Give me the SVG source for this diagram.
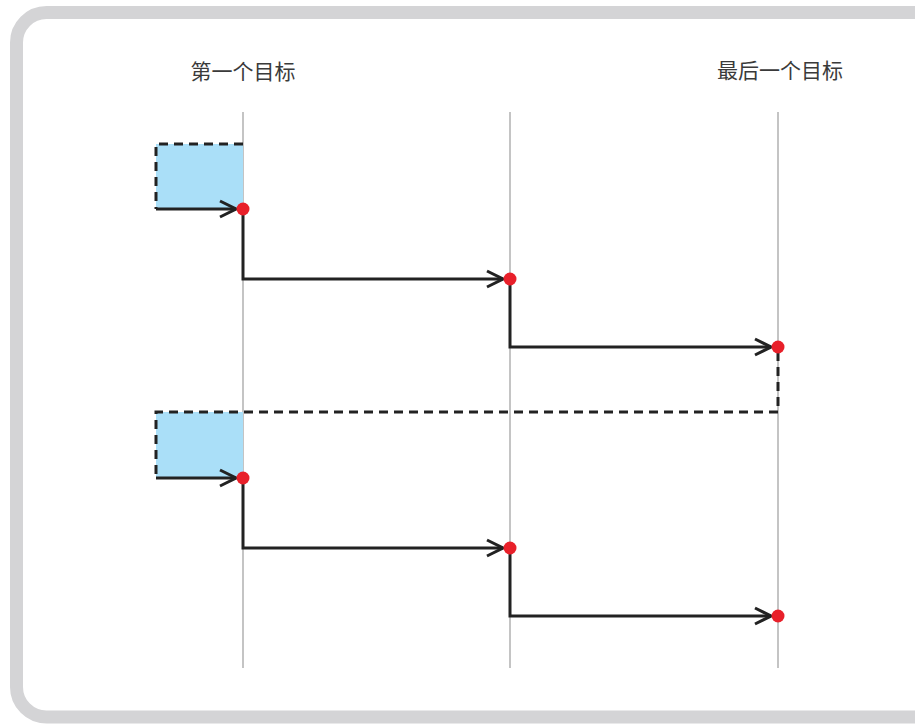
<svg xmlns="http://www.w3.org/2000/svg" width="915" height="724" viewBox="0 0 915 724">
<style>
.frame{fill:#fff;stroke:#d4d4d6;stroke-width:13}
.lane{stroke:#c4c4c4;stroke-width:2;fill:none}
.box{fill:#aadff8;stroke:none}
.dash{fill:none;stroke:#222;stroke-width:3;stroke-dasharray:9,6}
.line{fill:none;stroke:#222;stroke-width:3}
.dot{fill:#e8202a}
.lbl{font-family:"Noto Sans CJK SC","Noto Sans",sans-serif;font-size:21px;fill:#3a3a3a;text-anchor:middle}
</style>
<defs>
<marker id="arr" viewBox="0 0 20 20" refX="18" refY="10" markerWidth="20" markerHeight="20" markerUnits="userSpaceOnUse" orient="auto">
<polyline points="2,2 18,10 2,18" fill="none" stroke="#222" stroke-width="3"/>
</marker>
</defs>
<rect class="frame" x="16.5" y="12.5" width="930" height="704.5" rx="30"/>
<g id="labels">
<text class="lbl" x="243" y="79">第一个目标</text>
<text class="lbl" x="780" y="78">最后一个目标</text>
</g>
<g id="lanes">
<line class="lane" x1="243" y1="112" x2="243" y2="668"/>
<line class="lane" x1="510" y1="112" x2="510" y2="668"/>
<line class="lane" x1="778" y1="112" x2="778" y2="668"/>
</g>
<g id="box1"><rect class="box" x="156" y="144" width="87" height="65"/></g>
<g id="box2"><rect class="box" x="156" y="412" width="87" height="66"/></g>
<g id="connectors">
<path class="dash" d="M243,144 H156 V209"/>
<path class="line" d="M156,209 H236" marker-end="url(#arr)"/>
<path class="line" d="M243,209 V279 H503" marker-end="url(#arr)"/>
<path class="line" d="M510,279 V347 H771" marker-end="url(#arr)"/>
<path class="dash" d="M778,352 V412 H156 V478"/>
<path class="line" d="M156,478 H236" marker-end="url(#arr)"/>
<path class="line" d="M243,478 V548 H503" marker-end="url(#arr)"/>
<path class="line" d="M510,548 V616 H771" marker-end="url(#arr)"/>
</g>
<g id="dots">
<circle class="dot" cx="243" cy="209" r="6.5"/>
<circle class="dot" cx="510" cy="279" r="6.5"/>
<circle class="dot" cx="778" cy="347" r="6.5"/>
<circle class="dot" cx="243" cy="478" r="6.5"/>
<circle class="dot" cx="510" cy="548" r="6.5"/>
<circle class="dot" cx="778" cy="616" r="6.5"/>
</g>
</svg>
